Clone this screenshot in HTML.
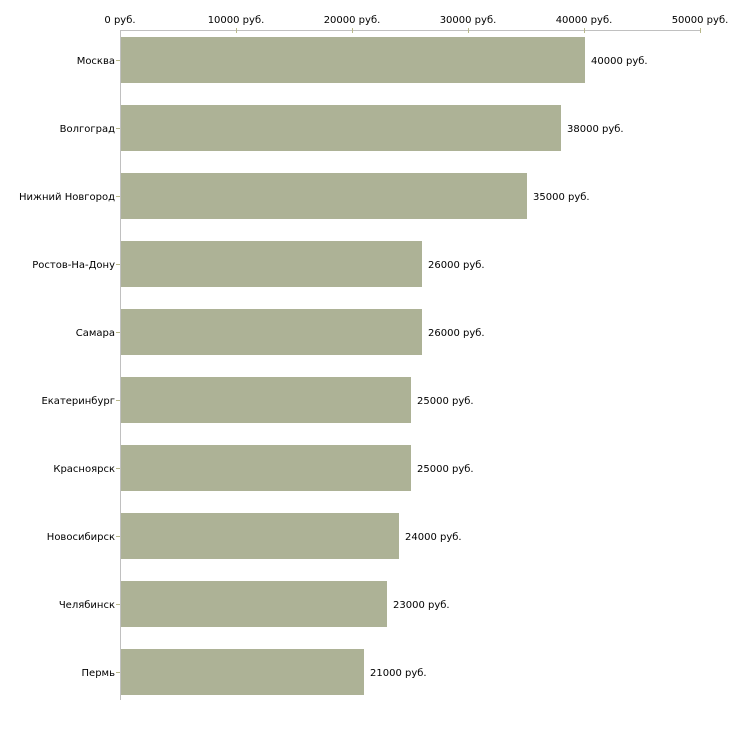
<!DOCTYPE html><html><head><meta charset="utf-8"><style>body{margin:0;background:#fff}</style></head><body>
<svg width="730" height="730" xmlns="http://www.w3.org/2000/svg" font-family="DejaVu Sans, Verdana, sans-serif" font-size="10" fill="#000">
<line x1="120" y1="30.5" x2="700" y2="30.5" stroke="#c0c0c0"/>
<line x1="120.5" y1="30" x2="120.5" y2="700" stroke="#c0c0c0"/>
<g stroke="#b8b88a">
<line x1="236.5" y1="28" x2="236.5" y2="33"/><line x1="352.5" y1="28" x2="352.5" y2="33"/><line x1="468.5" y1="28" x2="468.5" y2="33"/><line x1="584.5" y1="28" x2="584.5" y2="33"/><line x1="700.5" y1="28" x2="700.5" y2="33"/>
</g>
<g text-anchor="middle">
<text x="120" y="23">0 руб.</text><text x="236" y="23">10000 руб.</text><text x="352" y="23">20000 руб.</text><text x="468" y="23">30000 руб.</text><text x="584" y="23">40000 руб.</text><text x="700" y="23">50000 руб.</text>
</g>
<g fill="#adb296">
<rect x="121" y="37" width="464" height="46"/>
<rect x="121" y="105" width="440" height="46"/>
<rect x="121" y="173" width="406" height="46"/>
<rect x="121" y="241" width="301" height="46"/>
<rect x="121" y="309" width="301" height="46"/>
<rect x="121" y="377" width="290" height="46"/>
<rect x="121" y="445" width="290" height="46"/>
<rect x="121" y="513" width="278" height="46"/>
<rect x="121" y="581" width="266" height="46"/>
<rect x="121" y="649" width="243" height="46"/>
</g>
<g stroke="#b8b88a">
<line x1="116" y1="60.5" x2="120" y2="60.5"/><line x1="116" y1="128.5" x2="120" y2="128.5"/><line x1="116" y1="196.5" x2="120" y2="196.5"/><line x1="116" y1="264.5" x2="120" y2="264.5"/><line x1="116" y1="332.5" x2="120" y2="332.5"/><line x1="116" y1="400.5" x2="120" y2="400.5"/><line x1="116" y1="468.5" x2="120" y2="468.5"/><line x1="116" y1="536.5" x2="120" y2="536.5"/><line x1="116" y1="604.5" x2="120" y2="604.5"/><line x1="116" y1="672.5" x2="120" y2="672.5"/>
</g>
<g text-anchor="end">
<text x="115" y="64">Москва</text><text x="115" y="132">Волгоград</text><text x="115" y="200">Нижний Новгород</text><text x="115" y="268">Ростов-На-Дону</text><text x="115" y="336">Самара</text><text x="115" y="404">Екатеринбург</text><text x="115" y="472">Красноярск</text><text x="115" y="540">Новосибирск</text><text x="115" y="608">Челябинск</text><text x="115" y="676">Пермь</text>
</g>
<g>
<text x="591" y="64">40000 руб.</text><text x="567" y="132">38000 руб.</text><text x="533" y="200">35000 руб.</text><text x="428" y="268">26000 руб.</text><text x="428" y="336">26000 руб.</text><text x="417" y="404">25000 руб.</text><text x="417" y="472">25000 руб.</text><text x="405" y="540">24000 руб.</text><text x="393" y="608">23000 руб.</text><text x="370" y="676">21000 руб.</text>
</g>
</svg>
</body></html>
